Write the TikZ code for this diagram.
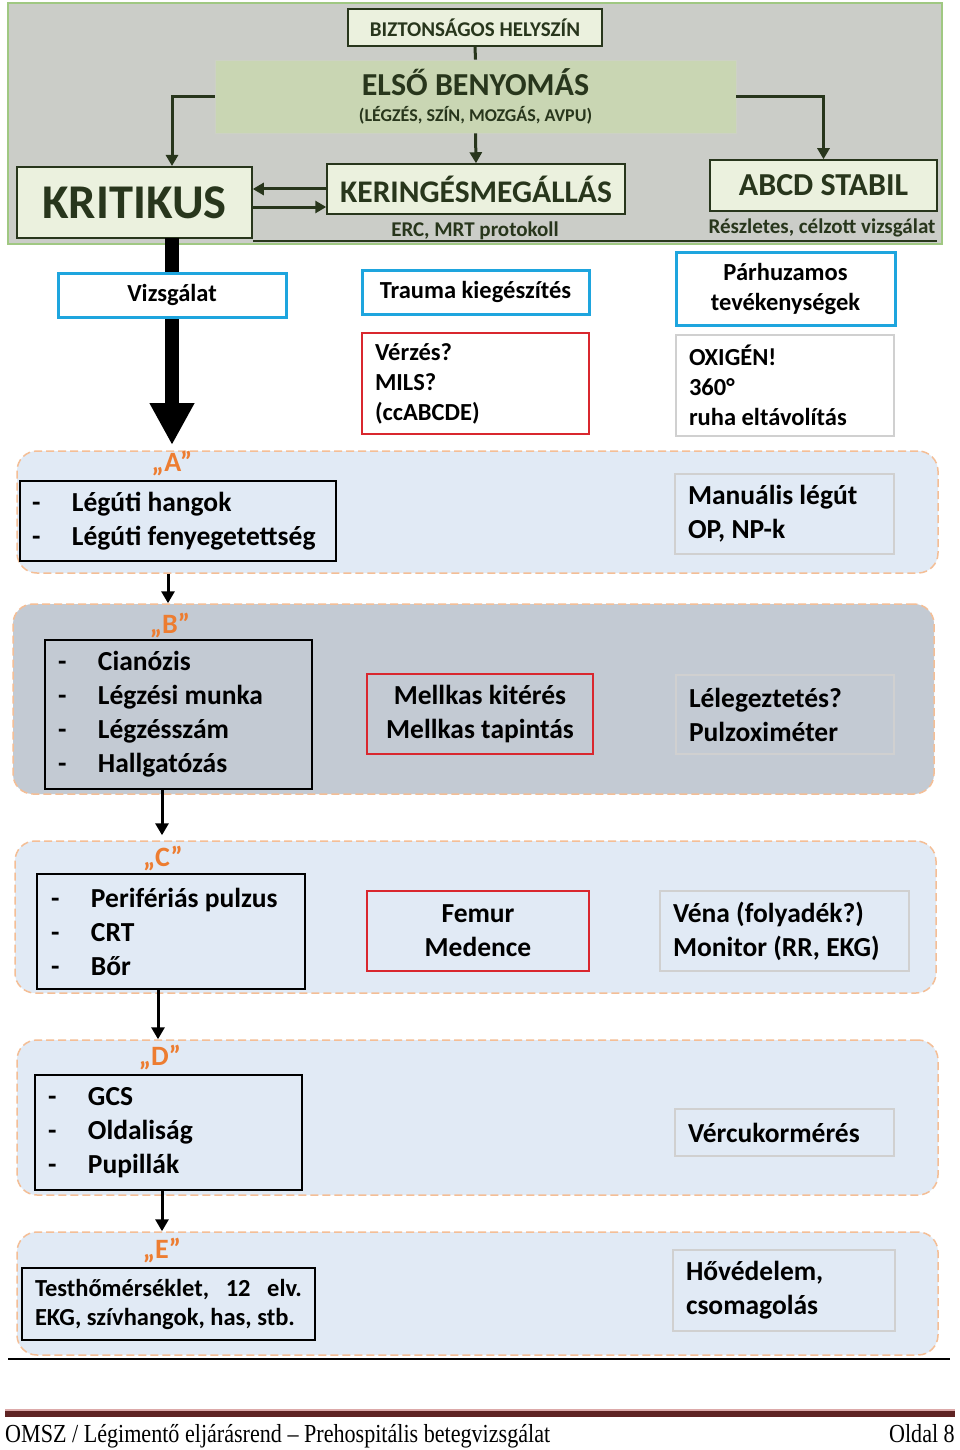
\documentclass[tikz,border=0pt]{standalone}
\usepackage{fontspec}
\setmainfont{Carlito}
\newfontfamily\footfont[FakeStretch=0.85]{Liberation Serif}
\usetikzlibrary{arrows.meta,calc}
\definecolor{topgray}{RGB}{203,205,200}
\definecolor{topborder}{RGB}{160,200,130}
\definecolor{ltgreen}{RGB}{235,241,222}
\definecolor{sage}{RGB}{201,214,179}
\definecolor{dkgreen}{RGB}{40,54,28}
\definecolor{myblue}{RGB}{30,165,222}
\definecolor{myred}{RGB}{217,39,46}
\definecolor{ltgray}{RGB}{208,208,208}
\definecolor{rowblue}{RGB}{225,234,245}
\definecolor{rowgray}{RGB}{195,202,211}
\definecolor{dashor}{RGB}{244,190,150}
\definecolor{myorange}{RGB}{237,125,49}
\definecolor{maroon}{RGB}{95,35,35}
\definecolor{pinkline}{RGB}{220,170,170}
\newcommand\fsz[2]{\fontsize{#1}{#2}\selectfont}
\newcommand\dsh{\makebox[40pt][l]{-}}
\begin{document}
\begin{tikzpicture}[x=1pt,y=-1pt,
  topbox/.style={draw=dkgreen, fill=ltgreen, line width=1.5pt, text=dkgreen, inner sep=0pt, align=center},
  bluebox/.style={draw=myblue, fill=white, line width=3pt, inner sep=0pt, align=center, font=\bfseries\fsz{24.5}{30}},
  redbox/.style={draw=myred, line width=1.5pt, inner sep=0pt},
  graybox/.style={draw=ltgray, line width=1.2pt, inner sep=0pt},
  listbox/.style={draw=black, line width=1.5pt, inner ysep=0pt, align=flush left, font=\bfseries\fsz{27.5}{34}},
  rowbg/.style={draw=dashor, line width=1.5pt, dash pattern=on 8pt off 4pt, rounded corners=20pt, inner sep=0pt, minimum width=921pt},
  lbl/.style={text=myorange, font=\bfseries\fsz{28}{28}, inner sep=0pt},
  darr/.style={draw=dkgreen, line width=3pt, -{Triangle[length=11pt,width=12pt]}},
  blarr/.style={draw=black, line width=3pt, -{Triangle[length=12pt,width=13pt]}},
  txt/.style={inner sep=0pt, text=dkgreen, font=\bfseries\fsz{21}{21}},
  big/.style={font=\bfseries\fsz{27.5}{34}}
]
\useasboundingbox (0,0) rectangle (960,1450);
\fill[white] (0,0) rectangle (960,1450);

% top region
\node[draw=topborder, fill=topgray, line width=2pt, minimum width=934pt, minimum height=241pt, inner sep=0pt] (top) at (475,123.5) {};
\node[topbox, minimum width=254pt, minimum height=37pt, font=\bfseries\fsz{21}{21}] (biz) at (475,27.5) {BIZTONSÁGOS HELYSZÍN};
\node[draw=ltgray!60!sage, fill=sage, line width=0.8pt, text=dkgreen, inner sep=0pt, align=center, minimum width=521pt, minimum height=73pt, font=\bfseries\fsz{32}{31}] (first) at (475.5,96.5) {ELSŐ BENYOMÁS\\[-5pt]{\fsz{18}{18}(LÉGZÉS, SZÍN, MOZGÁS, AVPU)}};
\node[topbox, minimum width=235pt, minimum height=71pt, font=\bfseries\fsz{48.5}{48}] (krit) at (134.5,202.5) {KRITIKUS};
\node[topbox, minimum width=298pt, minimum height=50pt, font=\bfseries\fsz{31.5}{31}] (ker) at (476,189) {KERINGÉSMEGÁLLÁS};
\node[topbox, minimum width=227pt, minimum height=51pt, font=\bfseries\fsz{32}{32}] (abcd) at (823.5,185.5) {ABCD STABIL};
\node[txt] (erc) at (475,231) {ERC, MRT protokoll};
\node[txt] (resz) at (822,228) {Részletes, célzott vizsgálat};

\coordinate (kin) at (172,166);
\coordinate (kout) at (172,238);
\draw[dkgreen, line width=3pt] (biz.south) -- (first.north);
\draw[darr] (first.south) -- (ker.north);
\draw[darr] (first.west) -| (kin);
\draw[darr] (first.east) -| (abcd.north);
\draw[darr] (ker.west) -- (ker.west -| krit.east);
\draw[darr] ([yshift=-4.5pt]krit.east) -- ([yshift=-4.5pt]krit.east -| ker.west);
\draw[dkgreen, line width=2pt] (253,241) -- (937,241);

% rows
\node[rowbg, fill=rowblue, minimum height=122pt] (rowA) at (477.5,512) {};
\node[rowbg, fill=rowgray, minimum height=190pt] (rowB) at (473.5,699) {};
\node[rowbg, fill=rowblue, minimum height=152pt] (rowC) at (475.5,917) {};
\node[rowbg, fill=rowblue, minimum height=155pt] (rowD) at (477.5,1117.5) {};
\node[rowbg, fill=rowblue, minimum height=123pt] (rowE) at (477.5,1293.5) {};

% big arrow
\coordinate (atop) at (172,445);
\draw[line width=14pt, -{Triangle[length=42pt,width=42pt]}] (kout) -- (atop);

% header boxes
\node[bluebox, minimum width=228pt, minimum height=44pt] (vizs) at (172,295) {Vizsgálat};
\node[bluebox, minimum width=227pt, minimum height=44pt] (trauma) at (475.5,292) {Trauma kiegészítés};
\node[bluebox, minimum width=219pt, minimum height=73pt] (parh) at (785.5,288.5) {Párhuzamos\\tevékenységek};
\node[redbox, fill=white, minimum height=101pt, text width=201pt, inner xsep=13pt, align=flush left, font=\bfseries\fsz{24.5}{30}] (verzes) at (475.5,383.5) {Vérzés?\\MILS?\\(ccABCDE)};
\node[graybox, fill=white, minimum height=101pt, text width=192pt, inner xsep=13pt, align=flush left, font=\bfseries\fsz{24.5}{30}] (oxi) at (785,385.5) {OXIGÉN!\\360°\\ruha eltávolítás};

% row A
\node[lbl] (la) at (172,463) {„A”};
\node[listbox, text width=292pt, inner xsep=12pt, minimum height=80pt] (Abox) at (178,521) {\dsh Légúti hangok\\\dsh Légúti fenyegetettség};
\node[graybox, big, text width=193pt, inner xsep=13pt, minimum height=80pt, align=flush left] (manual) at (784.5,514) {Manuális légút\\OP, NP-k};

% row B
\node[lbl] (lb) at (170,625) {„B”};
\node[listbox, text width=241pt, inner xsep=13pt, minimum height=149pt] (Bbox) at (178.5,714.5) {\dsh Cianózis\\\dsh Légzési munka\\\dsh Légzésszám\\\dsh Hallgatózás};
\node[redbox, big, minimum width=226pt, minimum height=80pt, align=center] (mell) at (480,714) {Mellkas kitérés\\Mellkas tapintás};
\node[graybox, big, text width=192pt, inner xsep=13pt, minimum height=79pt, align=flush left] (leleg) at (785,714.5) {Lélegeztetés?\\Pulzoximéter};

% row C
\node[lbl] (lc) at (163,858) {„C”};
\node[listbox, text width=240pt, inner xsep=14pt, minimum height=115pt] (Cbox) at (171,931.5) {\dsh Perifériás pulzus\\\dsh CRT\\\dsh Bőr};
\node[redbox, big, minimum width=222pt, minimum height=80pt, align=center] (femur) at (478,931) {Femur\\Medence};
\node[graybox, big, text width=223pt, inner xsep=13pt, minimum height=80pt, align=flush left] (vena) at (784.5,931) {Véna (folyadék?)\\Monitor (RR, EKG)};

% row D
\node[lbl] (ld) at (160,1057) {„D”};
\node[listbox, text width=241pt, inner xsep=13pt, minimum height=115pt] (Dbox) at (168.5,1132.5) {\dsh GCS\\\dsh Oldaliság\\\dsh Pupillák};
\node[graybox, big, text width=193pt, inner xsep=13pt, minimum height=47pt, align=flush left] (verc) at (784.5,1132.5) {Vércukormérés};

% row E
\node[lbl] (le) at (162,1250) {„E”};
\node[listbox, text width=267pt, inner xsep=13pt, minimum height=72pt, font=\bfseries\fsz{24.5}{29}] (Ebox) at (168.5,1304) {\makebox[267pt][s]{Testhőmérséklet,\hfill 12\hfill elv.}\\EKG, szívhangok, has, stb.};
\node[graybox, big, text width=196pt, inner xsep=13pt, minimum height=81pt, align=flush left] (hov) at (784,1290.5) {Hővédelem,\\csomagolás};

% row arrows
\coordinate (xab) at (168,0);
\coordinate (xbc) at (162,0);
\coordinate (xcd) at (158,0);
\coordinate (xde) at (162,0);
\draw[blarr] (rowA.south -| xab) -- (rowB.north -| xab);
\draw[blarr] (Bbox.south -| xbc) -- ([yshift=5pt]rowC.north -| xbc);
\draw[blarr] (Cbox.south -| xcd) -- (rowD.north -| xcd);
\draw[blarr] (Dbox.south -| xde) -- (rowE.north -| xde);

% bottom lines and footer
\draw[black, line width=2pt] (8,1359) -- (950,1359);
\fill[pinkline] (5,1408.5) rectangle (955,1410.5);
\fill[maroon] (5,1411) rectangle (955,1417);
\node[anchor=base west, inner sep=0pt, font=\footfont\fsz{26}{26}] (foot) at (5,1442) {OMSZ / Légimentő eljárásrend – Prehospitális betegvizsgálat};
\node[anchor=base east, inner sep=0pt, font=\footfont\fsz{26}{26}] (page) at (955,1442) {Oldal 8};
\end{tikzpicture}
\end{document}
